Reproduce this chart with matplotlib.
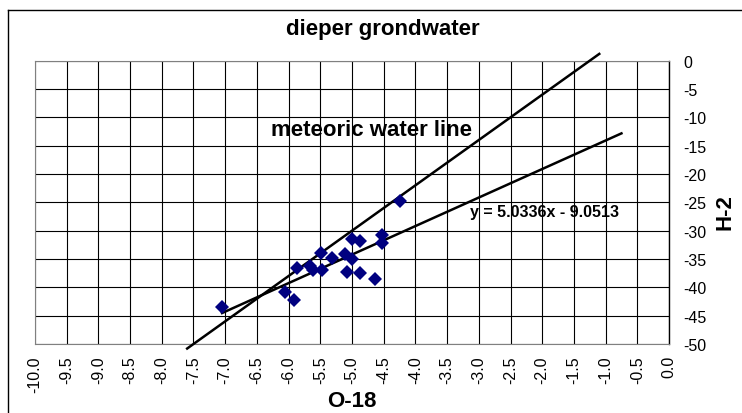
import numpy as np
import matplotlib
matplotlib.use("Agg")
import matplotlib.pyplot as plt
from matplotlib.lines import Line2D

plt.rcParams['font.family'] = ['Liberation Sans', 'DejaVu Sans']

# delta O-18 / delta H-2 of the deeper groundwater samples
o18 = [-4.24, -5.00, -4.88, -4.53, -4.53, -5.49, -5.31, -5.11, -5.00, -5.86,
       -5.67, -5.61, -5.47, -5.08, -4.88, -4.64, -6.05, -5.91, -7.05]
h2 = [-24.7, -31.5, -31.8, -30.8, -32.2, -33.9, -34.9, -34.1, -35.0, -36.6,
      -36.3, -36.9, -36.9, -37.3, -37.5, -38.6, -40.8, -42.2, -43.4]

# linear trend (as reported) and global meteoric water line
trend_slope = 5.0336
trend_icept = -9.0513
trend_x = [-7.05, -0.75]
mwl_slope = 8.0
mwl_icept = 10.0
mwl_x = [-7.6, -1.1]

x_ticks = [-10.0, -9.5, -9.0, -8.5, -8.0, -7.5, -7.0, -6.5, -6.0, -5.5, -5.0,
           -4.5, -4.0, -3.5, -3.0, -2.5, -2.0, -1.5, -1.0, -0.5, 0.0]
x_tick_labels = ["-10.0", "-9.5", "-9.0", "-8.5", "-8.0", "-7.5", "-7.0", "-6.5",
                 "-6.0", "-5.5", "-5.0", "-4.5", "-4.0", "-3.5", "-3.0", "-2.5",
                 "-2.0", "-1.5", "-1.0", "-0.5", "0.0"]
y_ticks = [0, -5, -10, -15, -20, -25, -30, -35, -40, -45, -50]
y_tick_labels = ["0", "-5", "-10", "-15", "-20", "-25", "-30", "-35", "-40", "-45", "-50"]

fig = plt.figure(figsize=(7.42, 4.14), dpi=100)
ax = fig.add_axes([35 / 742, 1 - 345 / 414, (669 - 35) / 742, (345 - 61.7) / 414])

ax.set_xlim(-10, 0)
ax.set_ylim(-50, 0)
ax.set_xticks(x_ticks)
ax.set_xticklabels(x_tick_labels, rotation=90)
ax.set_yticks(y_ticks)
ax.set_yticklabels(y_tick_labels)
ax.yaxis.tick_right()
ax.tick_params(axis='x', length=0, pad=8, labelsize=11.5)
ax.tick_params(axis='y', length=0, pad=10, labelsize=11.5)
ax.grid(True, color='black', linewidth=0.8)
ax.set_axisbelow(True)
for side in ['left', 'top', 'bottom']:
    ax.spines[side].set_color('#808080')
    ax.spines[side].set_linewidth(0.8)
ax.spines['right'].set_linewidth(1.0)

# meteoric water line and trend line (allowed to run past the axes)
mx = np.array(mwl_x)
ax.plot(mx, mwl_slope * mx + mwl_icept, color='black', lw=1.8, clip_on=False, zorder=3)
tx = np.array(trend_x)
ax.plot(tx, trend_slope * tx + trend_icept, color='black', lw=1.8, clip_on=False, zorder=3)

ax.plot(o18, h2, linestyle='none', marker='D', markersize=7,
        color='#000080', markeredgewidth=0, zorder=4, clip_on=False)

ax.text(-6.27, -13.1, "meteoric water line", fontsize=16, fontweight='bold',
        ha='left', va='baseline')
ax.text(-0.79, -27.35, f"y = {trend_slope:.4f}x - {abs(trend_icept):.4f}",
        fontsize=11.5, fontweight='bold', ha='right', va='baseline')

fig.text(383 / 742, 1 - 30 / 414, "dieper grondwater", fontsize=16,
         fontweight='bold', ha='center', va='center')
fig.text(352 / 742, 1 - 402 / 414, "O-18", fontsize=16, fontweight='bold',
         ha='center', va='center')
fig.text(725 / 742, 1 - 212 / 414, "H-2", fontsize=16, fontweight='bold',
         ha='center', va='center', rotation=90)

# chart area border (top and left edges)
fig.add_artist(Line2D([8.3 / 742, 8.3 / 742], [0, 1 - 11 / 414], color='black', lw=1.0))
fig.add_artist(Line2D([8.3 / 742, 1], [1 - 11 / 414, 1 - 11 / 414], color='black', lw=1.0))

fig.savefig("out.png", dpi=100)
